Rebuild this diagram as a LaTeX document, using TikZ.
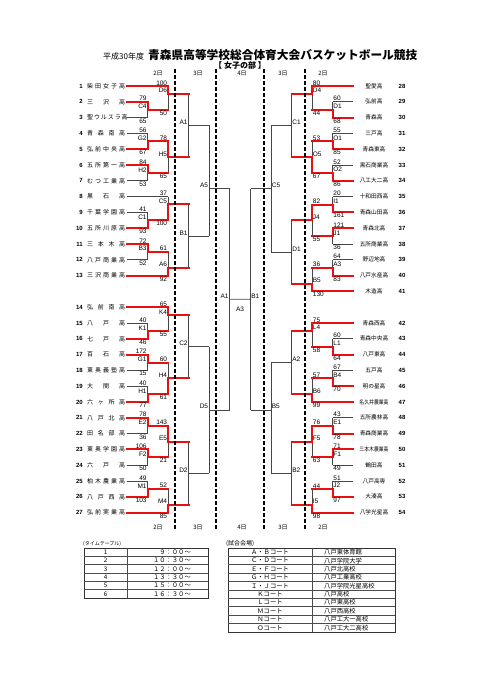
\documentclass[tikz,border=0pt]{standalone}
\usepackage{fontspec}
\usepackage{graphicx}
\setmainfont{Liberation Sans}
\newfontfamily\jp{Noto Sans CJK JP}
\usetikzlibrary{calc}

\definecolor{wred}{RGB}{232,16,16}
\definecolor{lgray}{RGB}{70,70,70}

\newcommand{\fs}[1]{\fontsize{#1}{#1}\selectfont}
\newcommand{\squeeze}[1]{\scalebox{.85}[1]{#1}}

% one game: id, column, top source, bottom source, top style, bottom style, where the exit sits
\newcommand{\game}[7]{%
  \coordinate (#1a) at (#2 |- #3);
  \coordinate (#1b) at (#2 |- #4);
  \coordinate (#1) at ($(#1a)!#7!(#1b)$);
  \draw[wire] (#1a) -- (#1b);
  \draw[#5] (#3) -- (#1a);
  \draw[#6] (#4) -- (#1b);
}
\newcommand{\won}[2]{\draw[hot] (#1#2) -- (#1);}
\newcommand{\lnote}[4]{%
  \node[sc, anchor=south east] (#1-s1) at (#1a) {#2};
  \node[sc, anchor=south east] (#1-n) at (#1) {#3};
  \node[sc, anchor=north east] (#1-s2) at (#1b) {#4};}
\newcommand{\rnote}[4]{%
  \node[sc, anchor=south west] (#1-s1) at (#1a) {#2};
  \node[sc, anchor=south west] (#1-n) at (#1) {#3};
  \node[sc, anchor=north west] (#1-s2) at (#1b) {#4};}

\tikzset{
  wire/.style={draw=lgray, line width=.8pt},
  hot/.style={draw=wred, line width=2pt, line cap=rect},
  dayline/.style={draw=black, line width=1.1pt, dash pattern=on 3.5pt off 2.5pt},
  sc/.style={font=\fs{6.5}, inner sep=.7pt},
  lteam/.style={font=\jp\fs{6}, inner sep=0pt, anchor=west},
  rteam/.style={font=\jp\fs{5.7}, inner sep=0pt},
  tnum/.style={font=\bfseries\fs{6}, inner sep=0pt},
  daylab/.style={font=\jp\fs{6}, inner sep=0pt},
  tbox/.style={draw=black!80, line width=1pt},
  tgrid/.style={draw=black!70, line width=.8pt},
  ttext/.style={font=\jp\fs{6.3}, inner sep=0pt},
}

\begin{document}
\begin{tikzpicture}[x=1pt, y=-1pt]
\useasboundingbox (0,0) rectangle (481,680);

% title
\node[font=\jp\fs{8}, anchor=west, inner sep=0pt] (yr) at (103,56) {平成30年度};
\node[font=\jp\bfseries\fs{11.7}, anchor=west, inner sep=0pt] (ttl) at (148,55) {青森県高等学校総合体育大会バスケットボール競技};
\node[font=\jp\bfseries\fs{8}, inner sep=0pt] (sub) at (240,65.5) {【 女子の部 】};

% columns
\coordinate (kL1) at (147.5,0);
\coordinate (kL2) at (168,0);
\coordinate (kL3) at (188.5,0);
\coordinate (kL4) at (209,0);
\coordinate (kLS) at (229.5,0);
\coordinate (kRS) at (250.5,0);
\coordinate (kR4) at (271,0);
\coordinate (kR3) at (291.5,0);
\coordinate (kR2) at (312,0);
\coordinate (kR1) at (332.5,0);

% teams
\foreach \nm [count=\i] in {柴 田 女 子 高, 三 沢 高, 聖 ウ ル ス ラ 高, 青 森 南 高, 弘 前 中 央 高,
  五 所 第 一 高, む つ 工 業 高, 黒 石 高, 千 葉 学 園 高, 五 所 川 原 高, 三 本 木 高, 八 戸 商 業 高,
  三 沢 商 業 高, 弘 前 南 高, 八 戸 高, 七 戸 高, 百 石 高, 東 奥 義 塾 高, 大 間 高, 六 ヶ 所 高,
  八 戸 北 高, 田 名 部 高, 東 奥 学 園 高, 六 戸 高, 柏 木 農 業 高, 八 戸 西 高, 弘 前 実 業 高}{
  \pgfmathsetmacro\yy{86+15.8*(\i<14 ? \i-1 : \i)}
  \coordinate (L\i) at (127,\yy);
  \node[lteam] (ln\i) at (87,\yy) {\makebox[38pt][s]{\nm}};
  \node[tnum, anchor=east] (lk\i) at (83,\yy) {\i};
}
\foreach \nm [count=\j from 28] in {聖愛高, 弘前高, 青森高, 三戸高, 青森東高, 黒石商業高, 八工大二高,
  十和田西高, 青森山田高, 青森北高, 五所商業高, 野辺地高, 八戸水産高, 木造高, 青森西高, 青森中央高,
  八戸東高, 五戸高, 明の星高, \squeeze{名久井農業高}, 五所農林高, 青森商業高, \squeeze{三本木農業高},
  鶴田高, 八戸高専, 大湊高, 八学光星高}{
  \pgfmathsetmacro\yy{86+15.8*(\j<42 ? \j-28 : \j-27)}
  \coordinate (R\j) at (353,\yy);
  \node[rteam] (rn\j) at (374,\yy) {\nm};
  \node[tnum] (rk\j) at (402,\yy) {\j};
}

% left, day 2
\game{lC4}{kL1}{L2}{L3}{hot}{wire}{.5} \won{lC4}{a}
\game{lG2}{kL1}{L4}{L5}{wire}{hot}{.5} \won{lG2}{b}
\game{lH2}{kL1}{L6}{L7}{hot}{wire}{.5} \won{lH2}{a}
\game{lC1}{kL1}{L9}{L10}{wire}{hot}{.5} \won{lC1}{b}
\game{lB3}{kL1}{L11}{L12}{hot}{wire}{.5} \won{lB3}{a}
\game{lK1}{kL1}{L15}{L16}{wire}{hot}{.5} \won{lK1}{b}
\game{lG1}{kL1}{L17}{L18}{hot}{wire}{.5} \won{lG1}{a}
\game{lH1}{kL1}{L19}{L20}{wire}{hot}{.5} \won{lH1}{b}
\game{lE2}{kL1}{L21}{L22}{hot}{wire}{.5} \won{lE2}{a}
\game{lF2}{kL1}{L23}{L24}{hot}{wire}{.5} \won{lF2}{a}
\game{lM1}{kL1}{L25}{L26}{wire}{hot}{.5} \won{lM1}{b}
\game{lD6}{kL2}{L1}{lC4}{hot}{hot}{.333} \won{lD6}{a}
\game{lH5}{kL2}{lG2}{lH2}{hot}{hot}{.5} \won{lH5}{a}
\game{lC5}{kL2}{L8}{lC1}{wire}{hot}{.333} \won{lC5}{b}
\game{lA6}{kL2}{lB3}{L13}{hot}{hot}{.667} \won{lA6}{b}
\game{lK4}{kL2}{L14}{lK1}{hot}{hot}{.333} \won{lK4}{a}
\game{lH4}{kL2}{lG1}{lH1}{hot}{hot}{.5} \won{lH4}{b}
\game{lE5}{kL2}{lE2}{lF2}{hot}{hot}{.5} \won{lE5}{a}
\game{lM4}{kL2}{lM1}{L27}{hot}{hot}{.667} \won{lM4}{b}

% right, day 2
\game{rD1}{kR1}{R29}{R30}{wire}{hot}{.5} \won{rD1}{b}
\game{rO1}{kR1}{R31}{R32}{wire}{hot}{.5} \won{rO1}{b}
\game{rO2}{kR1}{R33}{R34}{wire}{hot}{.5} \won{rO2}{b}
\game{rI1}{kR1}{R35}{R36}{wire}{hot}{.5} \won{rI1}{b}
\game{rJ1}{kR1}{R37}{R38}{hot}{wire}{.5} \won{rJ1}{a}
\game{rA3}{kR1}{R39}{R40}{wire}{hot}{.5} \won{rA3}{b}
\game{rL1}{kR1}{R43}{R44}{wire}{hot}{.5} \won{rL1}{b}
\game{rB4}{kR1}{R45}{R46}{wire}{hot}{.5} \won{rB4}{b}
\game{rE1}{kR1}{R48}{R49}{wire}{hot}{.5} \won{rE1}{b}
\game{rF1}{kR1}{R50}{R51}{hot}{wire}{.5} \won{rF1}{a}
\game{rJ2}{kR1}{R52}{R53}{wire}{hot}{.5} \won{rJ2}{b}
\game{rD4}{kR2}{R28}{rD1}{hot}{hot}{.333} \won{rD4}{a}
\game{rO5}{kR2}{rO1}{rO2}{hot}{hot}{.5} \won{rO5}{b}
\game{rJ4}{kR2}{rI1}{rJ1}{hot}{hot}{.5} \won{rJ4}{a}
\game{rB5}{kR2}{rA3}{R41}{hot}{hot}{.667} \won{rB5}{b}
\game{rL4}{kR2}{R42}{rL1}{hot}{hot}{.333} \won{rL4}{a}
\game{rB6}{kR2}{rB4}{R47}{hot}{hot}{.667} \won{rB6}{b}
\game{rF5}{kR2}{rE1}{rF1}{hot}{hot}{.5} \won{rF5}{a}
\game{rI5}{kR2}{rJ2}{R54}{hot}{hot}{.667} \won{rI5}{b}

% day 3
\game{l3A1}{kL3}{lD6}{lH5}{hot}{hot}{.5}
\game{l3B1}{kL3}{lC5}{lA6}{hot}{hot}{.5}
\game{l3C2}{kL3}{lK4}{lH4}{hot}{hot}{.5}
\game{l3D2}{kL3}{lE5}{lM4}{hot}{hot}{.5}
\game{l3A5}{kL4}{l3A1}{l3B1}{wire}{wire}{.571}
\game{l3D5}{kL4}{l3C2}{l3D2}{wire}{wire}{.5}
\game{r3C1}{kR3}{rD4}{rO5}{hot}{hot}{.5}
\game{r3D1}{kR3}{rJ4}{rB5}{hot}{hot}{.5}
\game{r3A2}{kR3}{rL4}{rB6}{hot}{hot}{.5}
\game{r3B2}{kR3}{rF5}{rI5}{hot}{hot}{.5}
\game{r3C5}{kR4}{r3C1}{r3D1}{wire}{wire}{.5}
\game{r3B5}{kR4}{r3A2}{r3B2}{wire}{wire}{.429}

% day 4
\game{sA1}{kLS}{l3A5}{l3D5}{wire}{wire}{.5}
\game{sB1}{kRS}{r3C5}{r3B5}{wire}{wire}{.5}
\draw[wire] (sA1) -- (sB1);

% scores
\lnote{lC4}{79}{C4}{65}
\lnote{lG2}{56}{G2}{67}
\lnote{lH2}{84}{H2}{53}
\lnote{lC1}{41}{C1}{93}
\lnote{lB3}{72}{B3}{52}
\lnote{lK1}{40}{K1}{46}
\lnote{lG1}{172}{G1}{15}
\lnote{lH1}{40}{H1}{77}
\lnote{lE2}{78}{E2}{36}
\lnote{lF2}{106}{F2}{50}
\lnote{lM1}{49}{M1}{103}
\lnote{lD6}{100}{D6}{50}
\lnote{lH5}{78}{H5}{65}
\lnote{lC5}{37}{C5}{100}
\lnote{lA6}{61}{A6}{92}
\lnote{lK4}{65}{K4}{55}
\lnote{lH4}{60}{H4}{61}
\lnote{lE5}{143}{E5}{21}
\lnote{lM4}{52}{M4}{85}
\rnote{rD1}{60}{D1}{68}
\rnote{rO1}{55}{O1}{85}
\rnote{rO2}{52}{O2}{86}
\rnote{rI1}{20}{I1}{161}
\rnote{rJ1}{121}{J1}{36}
\rnote{rA3}{64}{A3}{83}
\rnote{rL1}{60}{L1}{64}
\rnote{rB4}{67}{B4}{70}
\rnote{rE1}{43}{E1}{78}
\rnote{rF1}{71}{F1}{49}
\rnote{rJ2}{51}{J2}{97}
\rnote{rD4}{80}{D4}{44}
\rnote{rO5}{53}{O5}{67}
\rnote{rJ4}{82}{J4}{55}
\rnote{rB5}{36}{B5}{130}
\rnote{rL4}{75}{L4}{58}
\rnote{rB6}{57}{B6}{99}
\rnote{rF5}{76}{F5}{63}
\rnote{rI5}{44}{I5}{98}
\foreach \g/\t in {l3A1/A1, l3B1/B1, l3C2/C2, l3D2/D2, l3A5/A5, l3D5/D5, sA1/A1}
  \node[sc, anchor=south east] (\g-n) at (\g) {\t};
\foreach \g/\t in {r3C1/C1, r3D1/D1, r3A2/A2, r3B2/B2, r3C5/C5, r3B5/B5, sB1/B1}
  \node[sc, anchor=south west] (\g-n) at (\g) {\t};
\node[sc, anchor=north] (fA3) at ($(sA1)!.5!(sB1)+(0,7)$) {A3};

% days
\foreach \x/\d [count=\k] in {158/2日, 198/3日, 242/4日, 283/3日, 323/2日}{
  \node[daylab] (dt\k) at (\x,73) {\d};
  \node[daylab] (db\k) at (\x,527) {\d};
}
\foreach \x in {175,216,264,305}
  \draw[dayline] (\x,69) -- (\x,529);

% time table
\node[ttext, font=\jp\fs{5}, anchor=west] (cap1) at (83,543.5) {(タイムテーブル)};
\draw[tbox] (84,548) rectangle (208,598);
\foreach \k in {1,...,5}
  \draw[tgrid] (84,{548+8.333*\k}) -- (208,{548+8.333*\k});
\draw[tgrid] (127,548) -- (127,598);
\foreach \t [count=\k] in {９：００～, １０：３０～, １２：００～, １３：３０～, １５：００～, １６：３０～}{
  \node[ttext] (tn\k) at (105.5,{548+8.333*(\k-.5)}) {\k};
  \node[ttext, anchor=east] (tt\k) at (191,{548+8.333*(\k-.5)}) {\t};
}

% venues
\node[ttext, font=\jp\fs{6}, anchor=west] (cap2) at (226,543.5) {(試合会場)};
\draw[tbox] (228,548) rectangle (395,632);
\foreach \k in {1,...,9}
  \draw[tgrid] (228,{548+8.4*\k}) -- (395,{548+8.4*\k});
\draw[tgrid] (312,548) -- (312,632);
\foreach \c/\v [count=\k] in {Ａ・Ｂコート/八戸東体育館, Ｃ・Ｄコート/八戸学院大学, Ｅ・Ｆコート/八戸北高校,
  Ｇ・Ｈコート/八戸工業高校, Ｉ・Ｊコート/八戸学院光星高校, Ｋコート/八戸高校, Ｌコート/八戸東高校,
  Ｍコート/八戸西高校, Ｎコート/八戸工大一高校, Ｏコート/八戸工大二高校}{
  \node[ttext] (vc\k) at (270,{548+8.4*(\k-.5)}) {\c};
  \node[ttext, anchor=west] (vv\k) at (324,{548+8.4*(\k-.5)}) {\v};
}
\end{tikzpicture}
\end{document}
